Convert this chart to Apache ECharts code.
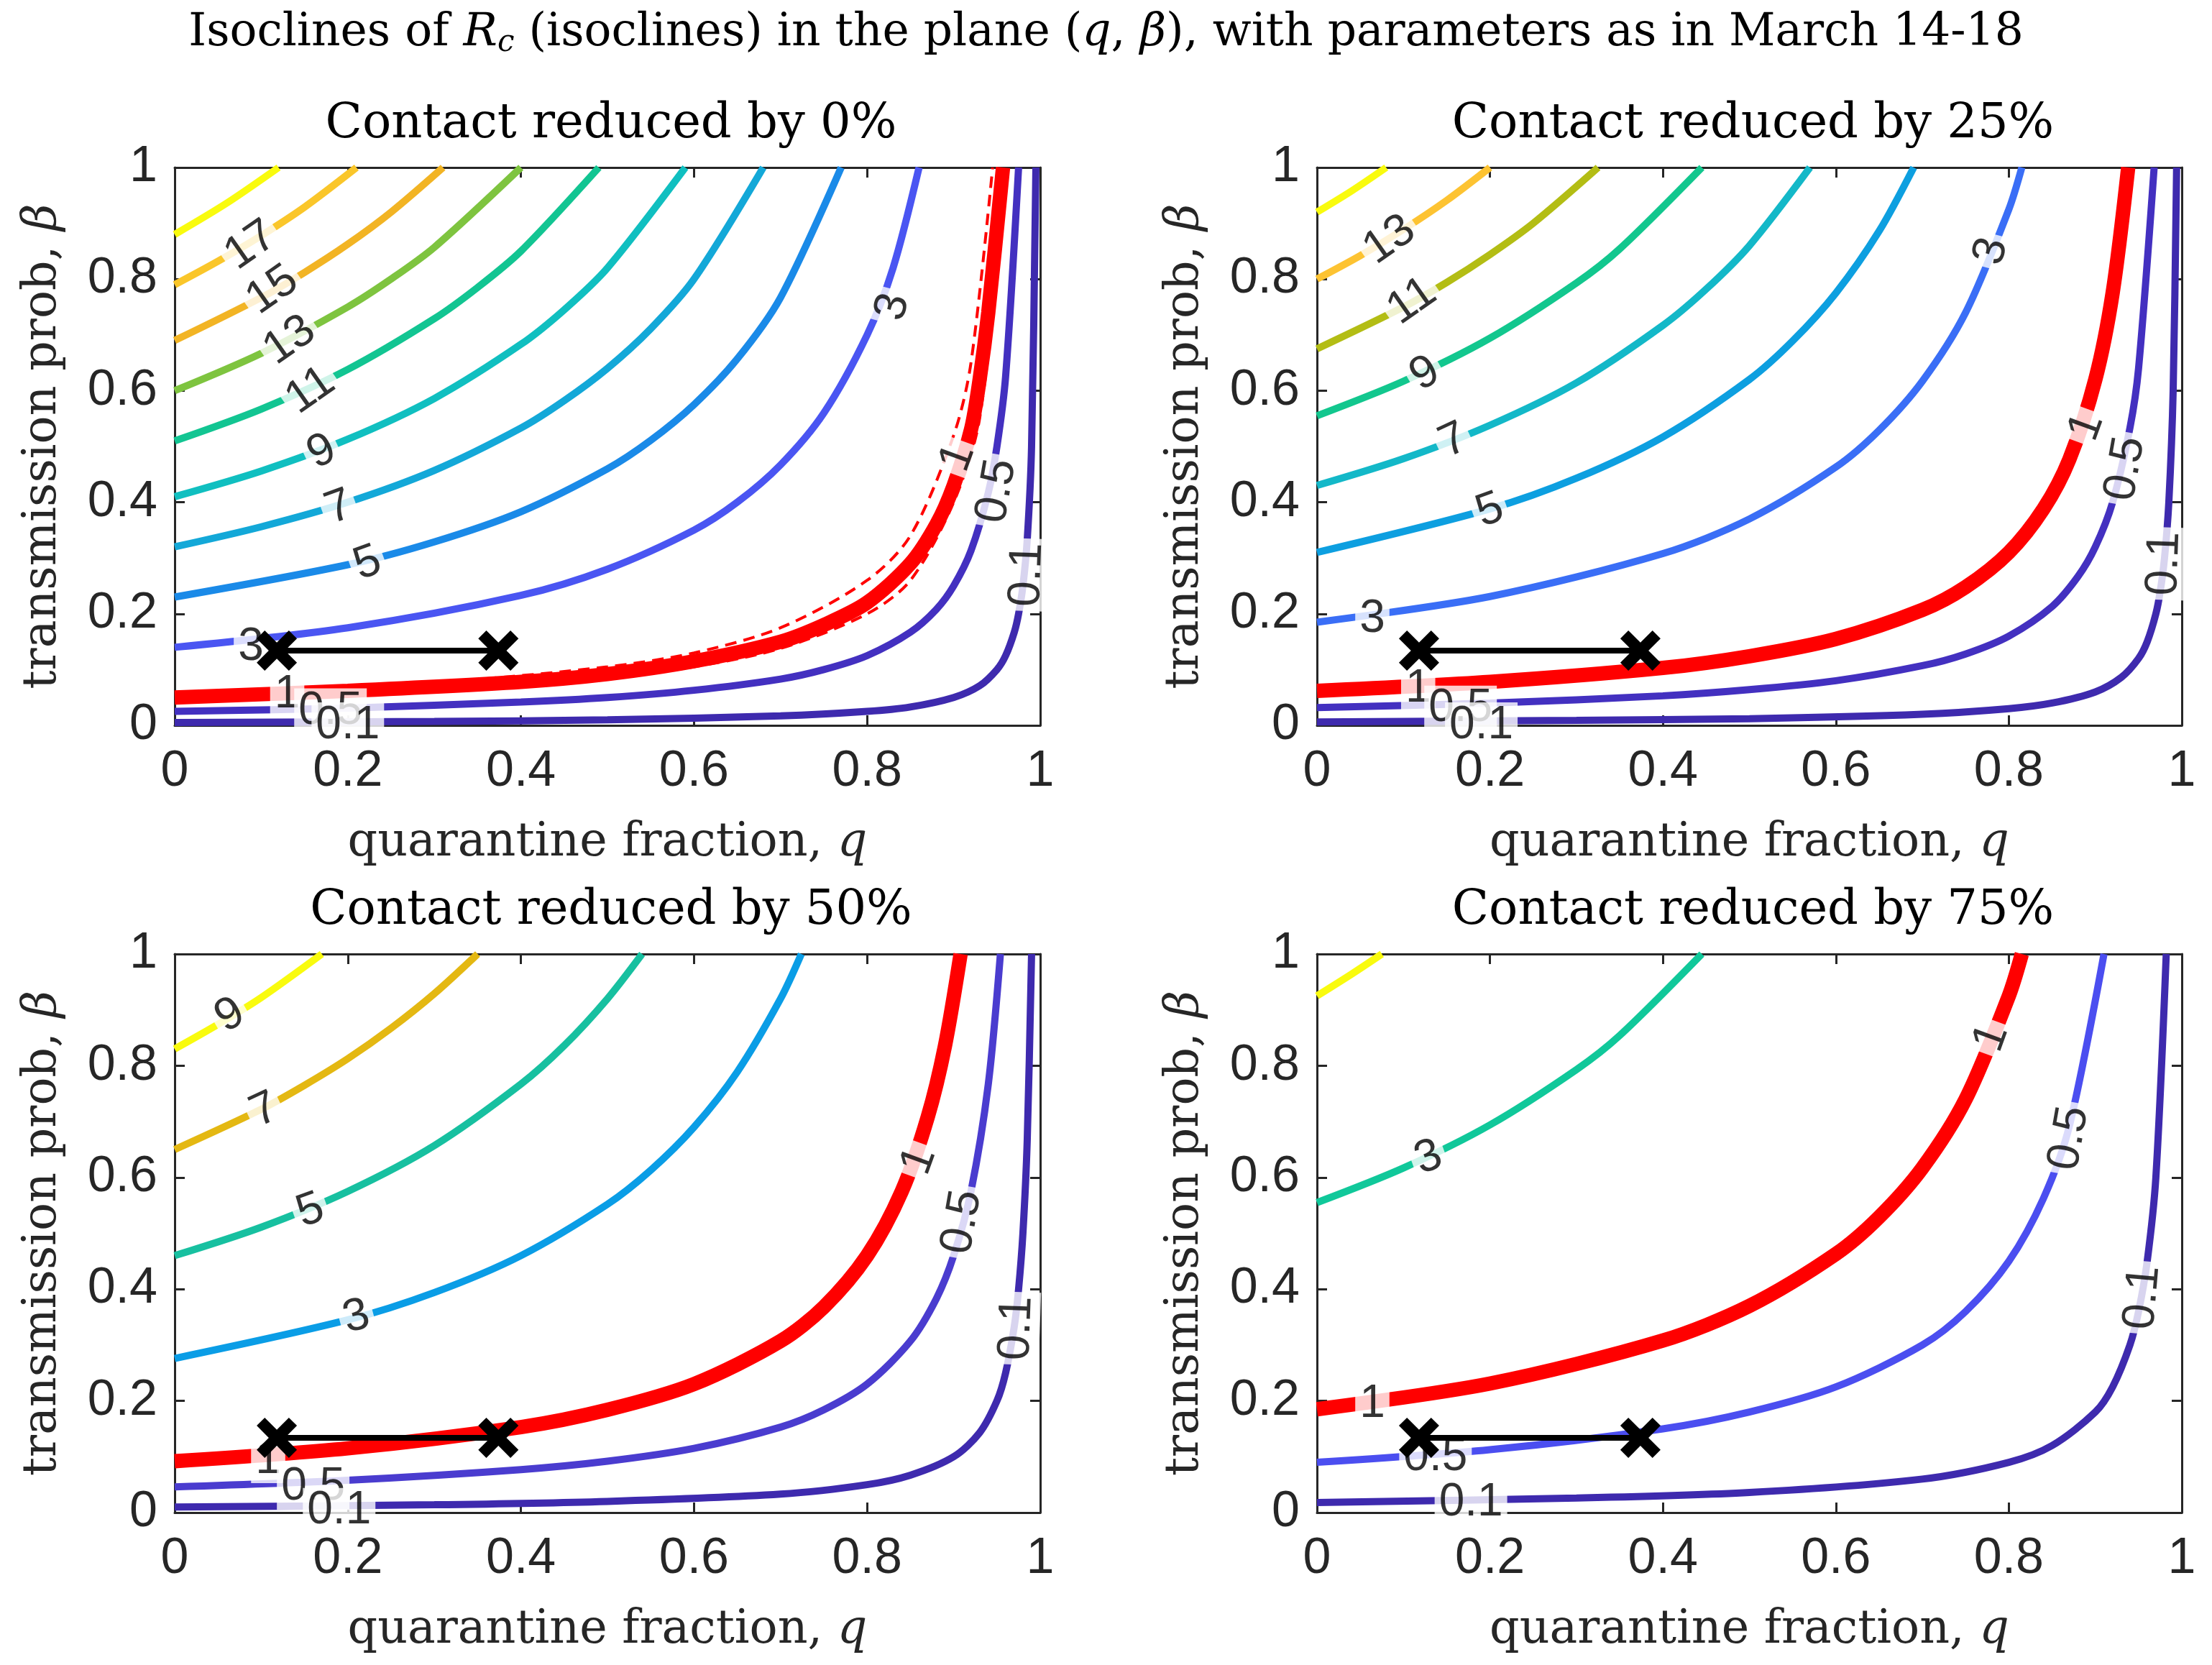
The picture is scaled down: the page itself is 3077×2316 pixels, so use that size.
<!DOCTYPE html>
<html lang="en">
<head>
<meta charset="UTF-8">
<title>Isoclines of Rc</title>
<script src="https://cdn.jsdelivr.net/npm/echarts@6/dist/echarts.min.js"></script>
<style>
    html, body {margin:0; padding:0; background:#fff}
    #main {width:3077px; height:2316px}
</style>
</head>
<body>
<div id="main"></div>
<script>
// ---- data: [q, beta] points per isocline ----
var titles = ['Contact reduced by 0%', 'Contact reduced by 25%', 'Contact reduced by 50%', 'Contact reduced by 75%'];
var xTicks = [0, 0.2, 0.4, 0.6, 0.8, 1];
var yTicks = [0, 0.2, 0.4, 0.6, 0.8, 1];

// panel 1 (0%)
var p1Levels = [0.1, 0.5, 1, 3, 5, 7, 9, 11, 13, 15, 17, 19];
var p1Colors = ['#3e2aae', '#4330c0', '#ff0000', '#4a55f2', '#1a8ae8', '#13a8d8', '#10bfc0', '#12c592', '#7ec43f', '#f2b424', '#fac62a', '#f9fb0e'];
var p1Curves = [
    [[0,.005],[.3,.007],[.5,.01],[.7,.017],[.8,.025],[.85,.033],[.9,.05],[.93,.071],[.95,.1],[.96,.125],[.97,.167],[.975,.2],[.98,.25],[.985,.333],[.99,.5],[.995,1]],
    [[0,.025],[.2,.031],[.4,.042],[.5,.05],[.6,.063],[.7,.083],[.75,.1],[.8,.125],[.85,.167],[.88,.208],[.9,.25],[.92,.313],[.94,.417],[.95,.5],[.96,.625],[.975,1]],
    [[0,.05],[.2,.062],[.4,.078],[.5,.092],[.6,.115],[.7,.15],[.75,.18],[.8,.22],[.85,.29],[.88,.36],[.9,.43],[.92,.53],[.93,.62],[.94,.74],[.957,1]],
    [[0,.14],[.2,.175],[.4,.233],[.5,.28],[.6,.35],[.65,.4],[.7,.467],[.75,.56],[.8,.7],[.83,.82],[.86,1]],
    [[0,.23],[.2,.288],[.3,.329],[.4,.383],[.5,.46],[.55,.511],[.6,.575],[.65,.657],[.7,.767],[.77,1]],
    [[0,.32],[.1,.356],[.2,.4],[.3,.457],[.4,.533],[.45,.582],[.5,.64],[.55,.711],[.6,.8],[.68,1]],
    [[0,.41],[.1,.456],[.2,.513],[.3,.586],[.4,.683],[.45,.745],[.5,.82],[.59,1]],
    [[0,.51],[.1,.567],[.2,.638],[.3,.729],[.35,.785],[.4,.85],[.49,1]],
    [[0,.6],[.1,.667],[.2,.75],[.25,.8],[.3,.857],[.4,1]],
    [[0,.69],[.1,.767],[.15,.812],[.2,.8625],[.25,.92],[.31,1]],
    [[0,.79],[.05,.832],[.1,.878],[.15,.929],[.21,1]],
    [[0,.88],[.06,.936],[.12,1]]
];
var p1Dashed = [
    [[.1,.056],[.3,.076],[.5,.105],[.6,.13],[.7,.175],[.8,.26],[.85,.34],[.9,.52],[.92,.65],[.945,1]],
    [[.1,.05],[.3,.064],[.5,.086],[.6,.105],[.7,.138],[.8,.2],[.85,.26],[.9,.4],[.93,.55],[.962,1]]
];
var p1Labels = [
    [0.088,0.86,'17',35],[0.113,0.78,'15',35],[0.133,0.69,'13',35],[0.157,0.60,'11',35],
    [0.17,0.49,'9',25],[0.19,0.39,'7',20],[0.223,0.29,'5',20],[0.83,0.75,'3',75],
    [0.088,0.14,'3',0],[0.905,0.48,'1',70],[0.95,0.42,'0.5',80],[0.985,0.27,'0.1',88],
    [0.13,0.055,'1',0],[0.18,0.025,'0.5',0],[0.2,0.0,'0.1',0]
];

// panel 2 (25%)
var p2Levels = [0.1, 0.5, 1, 3, 5, 7, 9, 11, 13, 15];
var p2Colors = ['#3e2aae', '#4330c0', '#ff0000', '#3a6ef6', '#0d9fe0', '#13b8c8', '#12c78e', '#b3bd14', '#fdc332', '#f9fb0e'];
var p2Curves = [
    [[0,.006],[.3,.009],[.5,.012],[.7,.02],[.8,.03],[.85,.04],[.9,.06],[.93,.086],[.95,.12],[.96,.15],[.97,.2],[.975,.24],[.98,.3],[.985,.4],[.99,.6],[.994,1]],
    [[0,.032],[.2,.04],[.4,.053],[.5,.064],[.6,.08],[.7,.107],[.75,.128],[.8,.16],[.85,.213],[.88,.267],[.9,.32],[.92,.4],[.94,.533],[.95,.64],[.968,1]],
    [[0,.062],[.2,.078],[.4,.103],[.5,.124],[.6,.155],[.7,.207],[.75,.248],[.8,.31],[.84,.388],[.87,.477],[.9,.62],[.92,.775],[.938,1]],
    [[0,.185],[.2,.231],[.4,.308],[.5,.37],[.6,.463],[.65,.529],[.7,.617],[.75,.74],[.8,.925],[.815,1]],
    [[0,.31],[.2,.388],[.3,.443],[.4,.517],[.5,.62],[.55,.689],[.6,.775],[.65,.886],[.69,1]],
    [[0,.43],[.1,.478],[.2,.538],[.3,.614],[.4,.717],[.45,.782],[.5,.86],[.57,1]],
    [[0,.555],[.1,.617],[.2,.694],[.3,.793],[.35,.854],[.445,1]],
    [[0,.675],[.1,.75],[.15,.794],[.2,.844],[.25,.9],[.325,1]],
    [[0,.8],[.05,.842],[.1,.889],[.15,.941],[.2,1]],
    [[0,.92],[.04,.958],[.08,1]]
];
var p2Labels = [
    [0.084,0.87,'13',35],[0.11,0.76,'11',35],[0.125,0.63,'9',30],[0.158,0.51,'7',25],
    [0.2,0.385,'5',20],[0.78,0.85,'3',75],[0.064,0.19,'3',0],[0.89,0.535,'1',70],
    [0.935,0.46,'0.5',80],[0.98,0.29,'0.1',88],[0.117,0.065,'1',0],[0.166,0.03,'0.5',0],[0.19,0.0,'0.1',0]
];

// panel 3 (50%)
var p3Levels = [0.1, 0.5, 1, 3, 5, 7, 9];
var p3Colors = ['#3e2aae', '#4a3ccf', '#ff0000', '#0a9de6', '#17c0a0', '#e4b812', '#f9fb0e'];
var p3Curves = [
    [[0,.01],[.3,.014],[.5,.02],[.7,.033],[.8,.05],[.85,.067],[.9,.1],[.93,.143],[.95,.2],[.96,.25],[.97,.333],[.975,.4],[.98,.5],[.985,.667],[.99,1]],
    [[0,.046],[.2,.058],[.4,.077],[.5,.092],[.6,.115],[.7,.153],[.75,.184],[.8,.23],[.85,.307],[.88,.383],[.9,.46],[.92,.575],[.94,.767],[.954,1]],
    [[0,.092],[.2,.115],[.4,.153],[.5,.184],[.6,.23],[.7,.307],[.75,.368],[.8,.46],[.84,.575],[.87,.708],[.89,.836],[.908,1]],
    [[0,.276],[.2,.345],[.3,.394],[.4,.46],[.5,.552],[.55,.613],[.6,.69],[.65,.789],[.7,.92],[.724,1]],
    [[0,.46],[.1,.511],[.2,.575],[.3,.657],[.4,.767],[.45,.836],[.5,.92],[.54,1]],
    [[0,.65],[.1,.722],[.15,.765],[.2,.8125],[.25,.867],[.3,.929],[.35,1]],
    [[0,.83],[.05,.874],[.1,.922],[.17,1]]
];
var p3Labels = [
    [0.064,0.89,'9',30],[0.104,0.72,'7',25],[0.157,0.54,'5',20],[0.21,0.35,'3',15],
    [0.86,0.63,'1',70],[0.91,0.52,'0.5',80],[0.973,0.33,'0.1',88],
    [0.108,0.094,'1',0],[0.16,0.046,'0.5',0],[0.19,0.003,'0.1',0]
];

// panel 4 (75%)
var p4Levels = [0.1, 0.5, 1, 3, 5];
var p4Colors = ['#3e2aae', '#4b4ef0', '#ff0000', '#10c89a', '#f9fb0e'];
var p4Curves = [
    [[0,.018],[.3,.026],[.5,.036],[.7,.06],[.8,.09],[.85,.12],[.9,.18],[.92,.225],[.94,.3],[.95,.36],[.96,.45],[.97,.6],[.982,1]],
    [[0,.09],[.2,.1125],[.4,.15],[.5,.18],[.6,.225],[.7,.3],[.75,.36],[.8,.45],[.84,.5625],[.87,.692],[.91,1]],
    [[0,.185],[.2,.231],[.4,.308],[.5,.37],[.6,.463],[.65,.529],[.7,.617],[.75,.74],[.8,.925],[.815,1]],
    [[0,.555],[.1,.617],[.2,.694],[.3,.793],[.35,.854],[.445,1]],
    [[0,.925],[.04,.964],[.075,1]]
];
var p4Labels = [
    [0.129,0.635,'3',20],[0.78,0.85,'1',70],[0.87,0.67,'0.5',80],[0.955,0.385,'0.1',85],
    [0.064,0.194,'1',0],[0.137,0.098,'0.5',0],[0.178,0.017,'0.1',0]
];

// March 14-18 range of q at the estimated beta
var marchQ = [0.118, 0.374];
var marchBeta = 0.134;

var panels = [
    {levels: p1Levels, colors: p1Colors, curves: p1Curves, labels: p1Labels, dashed: p1Dashed},
    {levels: p2Levels, colors: p2Colors, curves: p2Curves, labels: p2Labels, dashed: []},
    {levels: p3Levels, colors: p3Colors, curves: p3Curves, labels: p3Labels, dashed: []},
    {levels: p4Levels, colors: p4Colors, curves: p4Curves, labels: p4Labels, dashed: []}
];
var grids = [
    {left: 243, top: 233, width: 1204, height: 776},
    {left: 1832, top: 233, width: 1203, height: 776},
    {left: 243, top: 1327, width: 1204, height: 777},
    {left: 1832, top: 1327, width: 1203, height: 777}
];

var serif = 'DejaVu Serif';
var sans = 'Liberation Sans';
var crossPath = 'path://M0,2 L2,0 L5,3 L8,0 L10,2 L7,5 L10,8 L8,10 L5,7 L2,10 L0,8 L3,5 Z';

var option = {
    backgroundColor: '#fff',
    animation: false,
    title: [],
    grid: [],
    xAxis: [],
    yAxis: [],
    series: []
};

option.title.push({
    text: 'Isoclines of {i|R}{s|c} (isoclines) in the plane ({i|q}, {i|β}), with parameters as in March 14-18',
    left: 'center', top: 8,
    textStyle: {
        fontFamily: serif, fontSize: 63, fontWeight: 'normal', color: '#000',
        rich: {
            i: {fontFamily: serif, fontSize: 63, fontStyle: 'italic'},
            s: {fontFamily: serif, fontSize: 42, fontStyle: 'italic', verticalAlign: 'bottom', padding: [26, 0, 0, 0]}
        }
    }
});

for (var p = 0; p < 4; p++) {
    var g = grids[p];
    option.grid.push({left: g.left, top: g.top, width: g.width, height: g.height, show: false});
    option.title.push({
        text: titles[p], left: g.left + g.width / 2, top: g.top - 98, textAlign: 'center',
        textStyle: {fontFamily: serif, fontSize: 67, fontWeight: 'normal', color: '#000'}
    });
    var axLine = {show: true, onZero: false, lineStyle: {color: '#262626', width: 3}};
    var tick = {show: true, inside: true, length: 14, lineStyle: {color: '#262626', width: 3}};
    var nameStyle = {rich: {
        t: {fontFamily: serif, fontSize: 65, color: '#262626'},
        i: {fontFamily: serif, fontSize: 65, fontStyle: 'italic', color: '#262626'}
    }};
    option.xAxis.push({
        type: 'value', gridIndex: p, min: 0, max: 1, interval: 0.2,
        axisLine: axLine, axisTick: tick, splitLine: {show: false},
        axisLabel: {fontFamily: sans, fontSize: 70, color: '#262626', margin: 30},
        name: '{t|quarantine fraction, }{i|q}', nameLocation: 'middle', nameGap: 132,
        nameTextStyle: nameStyle
    });
    option.xAxis.push({
        type: 'value', gridIndex: p, min: 0, max: 1, interval: 0.2, position: 'top',
        axisLine: axLine, axisTick: tick, axisLabel: {show: false}, splitLine: {show: false}
    });
    option.yAxis.push({
        type: 'value', gridIndex: p, min: 0, max: 1, interval: 0.2,
        axisLine: axLine, axisTick: tick, splitLine: {show: false},
        axisLabel: {fontFamily: sans, fontSize: 70, color: '#262626', margin: 24},
        name: '{t|transmission prob, }{i|β}', nameLocation: 'middle', nameGap: 150,
        nameTextStyle: nameStyle
    });
    option.yAxis.push({
        type: 'value', gridIndex: p, min: 0, max: 1, interval: 0.2, position: 'right',
        axisLine: axLine, axisTick: tick, axisLabel: {show: false}, splitLine: {show: false}
    });

    var pan = panels[p];
    var xi = p * 2, yi = p * 2;
    for (var c = 0; c < pan.curves.length; c++) {
        option.series.push({
            name: 'Rc=' + pan.levels[c], type: 'line', xAxisIndex: xi, yAxisIndex: yi,
            data: pan.curves[c], smooth: 0.3, showSymbol: false, clip: true, z: 2,
            lineStyle: {color: pan.colors[c], width: pan.levels[c] === 1 ? 20 : 10}
        });
    }
    for (var d = 0; d < pan.dashed.length; d++) {
        option.series.push({
            type: 'line', xAxisIndex: xi, yAxisIndex: yi, data: pan.dashed[d],
            smooth: 0.3, showSymbol: false, z: 3,
            lineStyle: {color: '#ff0000', width: 4, type: [16, 10]}
        });
    }
    option.series.push({
        type: 'scatter', xAxisIndex: xi, yAxisIndex: yi, symbolSize: 0, z: 5,
        data: pan.labels.map(function (l) {
            return {value: [l[0], l[1]], label: {formatter: l[2], rotate: l[3]}};
        }),
        label: {
            show: true, position: 'inside', fontFamily: sans, fontSize: 64, color: '#000',
            backgroundColor: '#fff', padding: [0, 6]
        }
    });
    option.series.push({
        type: 'line', xAxisIndex: xi, yAxisIndex: yi, z: 8,
        data: [[marchQ[0], marchBeta], [marchQ[1], marchBeta]],
        symbol: crossPath, symbolSize: 56, showSymbol: true,
        itemStyle: {color: '#000'}, lineStyle: {color: '#000', width: 8}
    });
}

var chart = echarts.init(document.getElementById('main'));
chart.setOption(option);
</script>
</body>
</html>
